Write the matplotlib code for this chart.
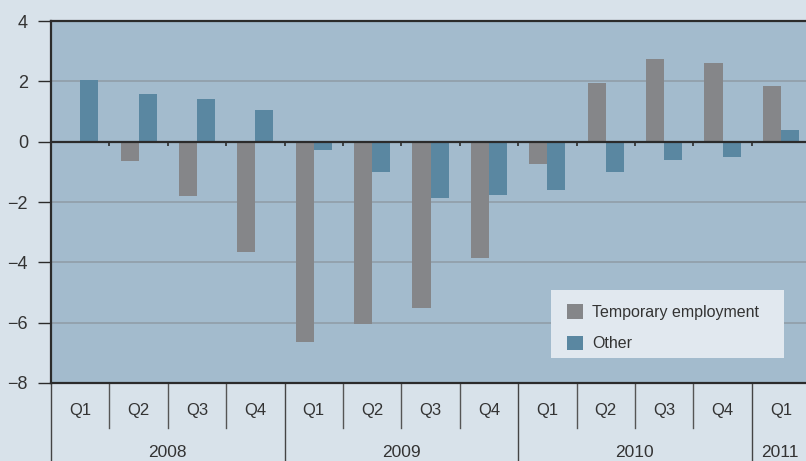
import numpy as np
import matplotlib.pyplot as plt
from matplotlib.patches import Rectangle

plt.rcParams.update({
    "font.family": ["Liberation Sans Narrow", "Liberation Sans", "DejaVu Sans"],
    "font.size": 12,
})

quarters = ["Q1", "Q2", "Q3", "Q4", "Q1", "Q2", "Q3", "Q4", "Q1", "Q2", "Q3", "Q4", "Q1"]
years = ["2008", "2009", "2010", "2011"]
year_counts = [4, 4, 4, 1]
temporary = [0.0, -0.63, -1.8, -3.65, -6.65, -6.05, -5.5, -3.87, -0.73, 1.95, 2.75, 2.6, 1.85]
other = [2.05, 1.58, 1.4, 1.04, -0.26, -1.0, -1.88, -1.77, -1.6, -1.0, -0.6, -0.5, 0.4]
yticks = [-8, -6, -4, -2, 0, 2, 4]

BG = "#d8e2ea"
PLOT_BG = "#a3bbcd"
GREY = "#858689"
BLUE = "#5a87a1"
DARK = "#2b2b2b"

fig = plt.figure(figsize=(8.06, 4.61), dpi=100, facecolor=BG)
ax = fig.add_axes([0.0633, 0.1692, 0.9367, 0.7852], facecolor=PLOT_BG)

x = np.arange(len(quarters))
w = 0.31
ax.bar(x - w / 2, temporary, w, color=GREY, label="Temporary employment", zorder=3)
ax.bar(x + w / 2, other, w, color=BLUE, label="Other", zorder=3)

ax.set_ylim(-8, 4)
ax.set_xlim(-0.5, 12.43)
ax.set_yticks(yticks)
ax.set_xticks([])
for y in yticks[1:-1]:
    if y != 0:
        ax.axhline(y, color="#909da8", lw=1.2, zorder=1)
ax.axhline(0, color=DARK, lw=1.6, zorder=4)

# little ticks on the zero line at category boundaries
ax.vlines(x[:-1] + 0.5, -0.15, 0, color=DARK, lw=1.2, zorder=4)

for side in ["top", "left", "bottom"]:
    ax.spines[side].set_color(DARK)
    ax.spines[side].set_linewidth(1.6)
ax.spines["right"].set_visible(False)
ax.tick_params(axis="y", length=9.5, width=1.0, color=DARK, pad=7,
               labelsize=13, labelcolor="#333333")

# category axis: quarters and years
tr = ax.get_xaxis_transform()
for i, q in enumerate(quarters):
    ax.text(x[i], -0.075, q, transform=tr, ha="center", va="center",
            fontsize=12, color="#333333")
boundaries = np.cumsum(year_counts)[:-1] - 0.5
for b in x[:-1] + 0.5:
    if b in boundaries:
        continue
    ax.plot([b, b], [0, -0.124], transform=tr, color="#555555", lw=1.0, clip_on=False)
for b in [-0.5] + list(boundaries):
    ax.plot([b, b], [0, -0.22], transform=tr, color="#444444", lw=1.0, clip_on=False)

start = 0
for yr, n in zip(years, year_counts):
    centre = start + (n - 1) / 2
    if n == 1:
        centre = start - 0.02
    ax.text(centre, -0.192, yr, transform=tr, ha="center", va="center",
            fontsize=12.5, color="#333333")
    start += n

# legend box drawn by hand so the padding matches
ax.add_patch(Rectangle((0.662, 0.069), 0.3086, 0.188, transform=ax.transAxes,
                       facecolor="#e1e8ef", edgecolor="none", zorder=5))
leg = ax.legend(loc="upper left", bbox_to_anchor=(0.683, 0.219), frameon=False,
                fontsize=11.5, handlelength=1.05, handleheight=1.05,
                borderpad=0, labelspacing=1.0, handletextpad=0.55, borderaxespad=0)
leg.set_zorder(6)
for t in leg.get_texts():
    t.set_color("#333333")

fig.savefig("out.png", dpi=100, facecolor=BG)
